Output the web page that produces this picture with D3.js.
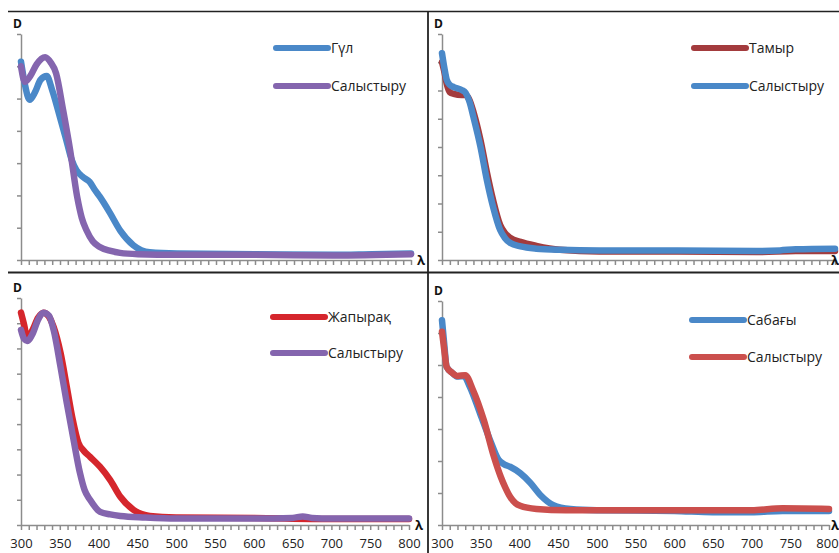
<!DOCTYPE html>
<html>
<head>
<meta charset="utf-8">
<script src="https://cdn.jsdelivr.net/npm/d3@7"></script>
<style>
  body { margin: 0; background: #fff; }
  svg { display: block; font-family: "Open Sans", "Noto Sans", sans-serif; }
</style>
</head>
<body>
<div class="canvas"></div>
<script>
// wavelengths (nm) and optical density, per panel

// panel 1: Гүл / Салыстыру
const gulNm   = [300, 305, 311, 318, 325, 333, 340, 350, 358, 365, 371, 380, 388, 395, 401, 414, 427, 444, 465, 500, 600, 700, 750, 800];
const gulD    = [3.07, 2.72, 2.48, 2.60, 2.79, 2.85, 2.63, 2.21, 1.86, 1.55, 1.39, 1.28, 1.21, 1.08, 0.98, 0.73, 0.46, 0.23, 0.12, 0.10, 0.09, 0.08, 0.09, 0.10];
const ref1Nm  = [300, 305, 312, 320, 331, 338, 345, 354, 363, 372, 378, 384, 392, 401, 415, 427, 450, 500, 600, 700, 800];
const ref1D   = [3.00, 2.76, 2.85, 3.03, 3.14, 3.06, 2.89, 2.32, 1.70, 0.98, 0.65, 0.46, 0.29, 0.20, 0.14, 0.11, 0.09, 0.08, 0.08, 0.07, 0.09];

// panel 2: Тамыр / Салыстыру
const tamyrNm = [300, 303, 306, 310, 315, 325, 330, 335, 340, 349, 357, 365, 374, 380, 387, 400, 420, 450, 500, 600, 700, 750, 800];
const tamyrD  = [3.50, 3.33, 3.12, 2.97, 2.94, 2.92, 2.92, 2.83, 2.62, 2.12, 1.56, 1.06, 0.62, 0.48, 0.39, 0.32, 0.25, 0.18, 0.15, 0.15, 0.14, 0.16, 0.16];
const ref2Nm  = [300, 303, 306, 310, 315, 325, 330, 335, 340, 349, 357, 365, 374, 380, 387, 400, 420, 450, 500, 600, 700, 730, 750, 800];
const ref2D   = [3.66, 3.40, 3.19, 3.10, 3.06, 3.01, 2.96, 2.80, 2.53, 2.00, 1.42, 0.94, 0.53, 0.39, 0.30, 0.24, 0.20, 0.18, 0.17, 0.17, 0.16, 0.17, 0.19, 0.20];

// panel 3: Жапырақ / Салыстыру
const zhapNm  = [300, 304, 308, 315, 322, 329, 336, 342, 351, 359, 366, 374, 381, 389, 402, 415, 428, 445, 466, 500, 600, 700, 800];
const zhapD   = [4.21, 3.97, 3.71, 3.87, 4.11, 4.21, 4.13, 3.93, 3.41, 2.74, 2.14, 1.63, 1.47, 1.35, 1.15, 0.89, 0.56, 0.30, 0.18, 0.15, 0.14, 0.12, 0.12];
const ref3Nm  = [300, 304, 308, 315, 322, 329, 336, 342, 351, 359, 367, 376, 382, 389, 402, 415, 428, 460, 500, 600, 650, 663, 675, 700, 800];
const ref3D   = [3.87, 3.69, 3.65, 3.79, 4.07, 4.21, 4.15, 3.87, 3.13, 2.42, 1.75, 1.03, 0.69, 0.50, 0.26, 0.21, 0.18, 0.15, 0.13, 0.13, 0.14, 0.17, 0.14, 0.13, 0.13];

// panel 4: Сабағы / Салыстыру
const sabNm   = [300, 303, 306, 313, 320, 328, 336, 349, 362, 373, 380, 388, 401, 414, 427, 444, 466, 500, 600, 650, 700, 740, 800];
const sabD    = [3.20, 2.81, 2.47, 2.38, 2.32, 2.33, 2.16, 1.75, 1.33, 1.02, 0.95, 0.91, 0.81, 0.66, 0.47, 0.31, 0.25, 0.23, 0.22, 0.20, 0.20, 0.22, 0.22];
const ref4Nm  = [300, 303, 306, 313, 320, 330, 340, 354, 367, 376, 382, 388, 395, 401, 422, 460, 600, 700, 740, 800];
const ref4D   = [3.02, 2.73, 2.47, 2.38, 2.33, 2.34, 2.11, 1.64, 1.07, 0.75, 0.58, 0.44, 0.34, 0.30, 0.25, 0.23, 0.23, 0.23, 0.26, 0.25];

const xTicksMinor = d3.range(300, 801, 10);
const xTickLabels = [300, 350, 400, 450, 500, 550, 600, 650, 700, 750, 800];
const legendNames = [["Гүл", "Салыстыру"], ["Тамыр", "Салыстыру"], ["Жапырақ", "Салыстыру"], ["Сабағы", "Салыстыру"]];

const zip = (a, b) => a.map((v, i) => [v, b[i]]);

const width = 839;
const height = 553;

// layout of the four panels
const panels = [
  { left: 21, right: 411, top: 34, bottom: 260, yMax: 3.5, yStep: 0.5, labels: false, lam: 417,
    lx: 276, ly: [48, 86], series: [[zip(gulNm, gulD), "#4a88c8"], [zip(ref1Nm, ref1D), "#8465ae"]] },
  { left: 442, right: 835, top: 34, bottom: 260, yMax: 4, yStep: 0.5, labels: false, lam: 831,
    lx: 694, ly: [48, 86], series: [[zip(tamyrNm, tamyrD), "#a33b3d"], [zip(ref2Nm, ref2D), "#4a88c8"]] },
  { left: 21, right: 409, top: 298, bottom: 525, yMax: 4.5, yStep: 0.5, labels: true, lam: 415,
    lx: 273, ly: [317, 353], series: [[zip(zhapNm, zhapD), "#d5262c"], [zip(ref3Nm, ref3D), "#8465ae"]] },
  { left: 442, right: 829, top: 301, bottom: 525, yMax: 3.5, yStep: 0.5, labels: true, lam: 831,
    lx: 692, ly: [320, 357], series: [[zip(sabNm, sabD), "#4a88c8"], [zip(ref4Nm, ref4D), "#cb4f4d"]] }
];

const svg = d3.select(".canvas").append("svg")
  .attr("width", width)
  .attr("height", height);

// frame lines between panels
svg.append("line").attr("x1", 8).attr("x2", width).attr("y1", 11.5).attr("y2", 11.5)
  .attr("stroke", "#222").attr("stroke-width", 1.6);
svg.append("line").attr("x1", 8).attr("x2", width).attr("y1", 272.5).attr("y2", 272.5)
  .attr("stroke", "#222").attr("stroke-width", 1.8);
svg.append("line").attr("x1", 428).attr("x2", 428).attr("y1", 11).attr("y2", height)
  .attr("stroke", "#222").attr("stroke-width", 1.8);

panels.forEach((p, i) => {
  const x = d3.scaleLinear().domain([300, 800]).range([p.left, p.right]);
  const y = d3.scaleLinear().domain([0, p.yMax]).range([p.bottom, p.top]);

  const g = svg.append("g");

  // y axis
  const gy = g.append("g")
    .attr("transform", `translate(${p.left},0)`)
    .call(d3.axisLeft(y).tickValues(d3.range(0, p.yMax + 1e-9, p.yStep)).tickSize(4).tickSizeOuter(0).tickFormat(""));

  // x axis with minor ticks
  const gx = g.append("g")
    .attr("transform", `translate(0,${p.bottom})`)
    .call(d3.axisBottom(x).tickValues(xTicksMinor).tickSize(5).tickSizeOuter(0).tickFormat(""));

  [gx, gy].forEach(a => {
    a.selectAll("path, line").attr("stroke", "#8c8c8c").attr("stroke-width", 1.5);
  });

  if (p.labels) {
    const gl = g.append("g")
      .attr("transform", `translate(0,${p.bottom})`)
      .call(d3.axisBottom(x).tickValues(xTickLabels).tickSize(0).tickPadding(14));
    gl.select(".domain").remove();
    gl.selectAll("text").attr("font-size", 13).attr("fill", "#222")
      .attr("font-family", "'Open Sans', sans-serif")
      // keep the last label inside the window
      .attr("dx", d => (d === 800 && p.right + 12 > width) ? p.right + 12 - width - 0 - (p.right + 12 - width) * 2 : 0);
  }

  // axis names
  g.append("text").attr("x", p.left - 8).attr("y", p.top - 6)
    .attr("font-size", 12).attr("font-weight", "bold").attr("fill", "#111").text("D");
  g.append("text").attr("x", p.lam).attr("y", p.bottom + 5)
    .attr("font-size", 13).attr("font-weight", "bold").attr("fill", "#111").text("λ");

  // curves
  const line = d3.line().x(d => x(d[0])).y(d => y(d[1])).curve(d3.curveMonotoneX);
  p.series.forEach(([data, color]) => {
    g.append("path").datum(data)
      .attr("fill", "none")
      .attr("stroke", color)
      .attr("stroke-width", 6.5)
      .attr("stroke-linecap", "round")
      .attr("stroke-linejoin", "round")
      .attr("d", line);
  });

  // legend
  p.series.forEach(([, color], k) => {
    const ly = p.ly[k];
    g.append("line").attr("x1", p.lx).attr("x2", p.lx + 52).attr("y1", ly).attr("y2", ly)
      .attr("stroke", color).attr("stroke-width", 6).attr("stroke-linecap", "round");
    g.append("text").attr("x", p.lx + 55).attr("y", ly).attr("dy", "0.35em")
      .attr("font-size", 14).attr("fill", "#222").text(legendNames[i][k]);
  });
});
</script>
</body>
</html>
